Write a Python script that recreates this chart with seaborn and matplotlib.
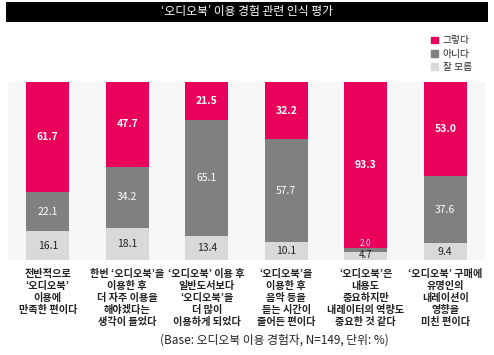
import pandas as pd
import matplotlib.pyplot as plt
import seaborn as sns
from matplotlib.patches import Rectangle

categories = [
    "전반적으로\n‘오디오북’\n이용에\n만족한 편이다",
    "한번 ‘오디오북’을\n이용한 후\n더 자주 이용을\n해야겠다는\n생각이 들었다",
    "‘오디오북’ 이용 후\n일반도서보다\n‘오디오북’을\n더 많이\n이용하게 되었다",
    "‘오디오북’을\n이용한 후\n음악 등을\n듣는 시간이\n줄어든 편이다",
    "‘오디오북’은\n내용도\n중요하지만\n내레이터의 역량도\n중요한 것 같다",
    "‘오디오북’ 구매에\n유명인의\n내레이션이\n영향을\n미친 편이다",
]
yes = [61.7, 47.7, 21.5, 32.2, 93.3, 53.0]
no = [22.1, 34.2, 65.1, 57.7, 2.0, 37.6]
unknown = [16.1, 18.1, 13.4, 10.1, 4.7, 9.4]
series_names = ["그렇다", "아니다", "잘 모름"]

pink = "#e8005b"
dark = "#808080"
light = "#d9d9d9"

sns.set_theme(style="white")
plt.rcParams['font.family'] = ['Noto Sans CJK KR', 'DejaVu Sans']

df = pd.DataFrame({"cat": categories, "yes": yes, "no": no, "unknown": unknown})
df["x"] = range(len(df))
df["top"] = df["yes"] + df["no"] + df["unknown"]
df["mid"] = df["no"] + df["unknown"]

fig = plt.figure(figsize=(4.94, 3.55), dpi=100)
ax = fig.add_axes([0.0162, 0.268, 0.9656, 0.501])
ax.set_facecolor("#f7f7f7")

# stacked bars: draw cumulative totals from the top down
sns.barplot(data=df, x="x", y="top", color=pink, width=0.54, saturation=1,
            linewidth=0, ax=ax)
sns.barplot(data=df, x="x", y="mid", color=dark, width=0.54, saturation=1,
            linewidth=0, ax=ax)
sns.barplot(data=df, x="x", y="unknown", color=light, width=0.54, saturation=1,
            linewidth=0, ax=ax)

ax.set_xlim(-0.5, len(df) - 0.5)
ax.set_ylim(0, 100)
ax.set_xticks([])
ax.set_yticks([])
ax.set_xlabel("")
ax.set_ylabel("")
for s in ax.spines.values():
    s.set_visible(False)

# value labels
for i, r in df.iterrows():
    ax.text(i, r["mid"] + r["yes"] / 2, f"{r['yes']:.1f}", ha="center", va="center",
            color="white", fontsize=7.5, fontweight="bold")
    if r["no"] >= 5:
        ax.text(i, r["unknown"] + r["no"] / 2, f"{r['no']:.1f}", ha="center", va="center",
                color="white", fontsize=7.5)
    else:
        ax.text(i, 9.2, f"{r['no']:.1f}", ha="center", va="center",
                color="white", fontsize=6, alpha=0.85)
    if r["unknown"] >= 7:
        ax.text(i, r["unknown"] / 2, f"{r['unknown']:.1f}", ha="center", va="center",
                color="#222222", fontsize=7.5)
    else:
        ax.text(i, 0.2, f"{r['unknown']:.1f}", ha="center", va="bottom",
                color="#222222", fontsize=7)
    ax.text(i, -5, r["cat"], ha="center", va="top", color="#222222", fontsize=7.3,
            fontweight="bold", linespacing=1.25)

# title box
fig.patches.append(Rectangle((6 / 494, 1 - 22 / 355), 482 / 494, 20 / 355,
                             transform=fig.transFigure, facecolor="black", edgecolor="none"))
fig.text(0.5, 1 - 12 / 355, "‘오디오북’ 이용 경험 관련 인식 평가", ha="center", va="center",
         color="white", fontsize=8.5)

# legend
handles = [Rectangle((0, 0), 1, 1, color=c) for c in [pink, dark, light]]
fig.legend(handles, series_names, loc="upper left", bbox_to_anchor=(0.855, 0.925),
           frameon=False, fontsize=7, handlelength=0.7, handleheight=0.7,
           handletextpad=0.5, labelspacing=0.35)

fig.text(0.556, 1 - 340 / 355, "(Base: 오디오북 이용 경험자, N=149, 단위: %)", ha="center",
         va="center", color="#222222", fontsize=8.5)

fig.savefig("out.png", dpi=100)
